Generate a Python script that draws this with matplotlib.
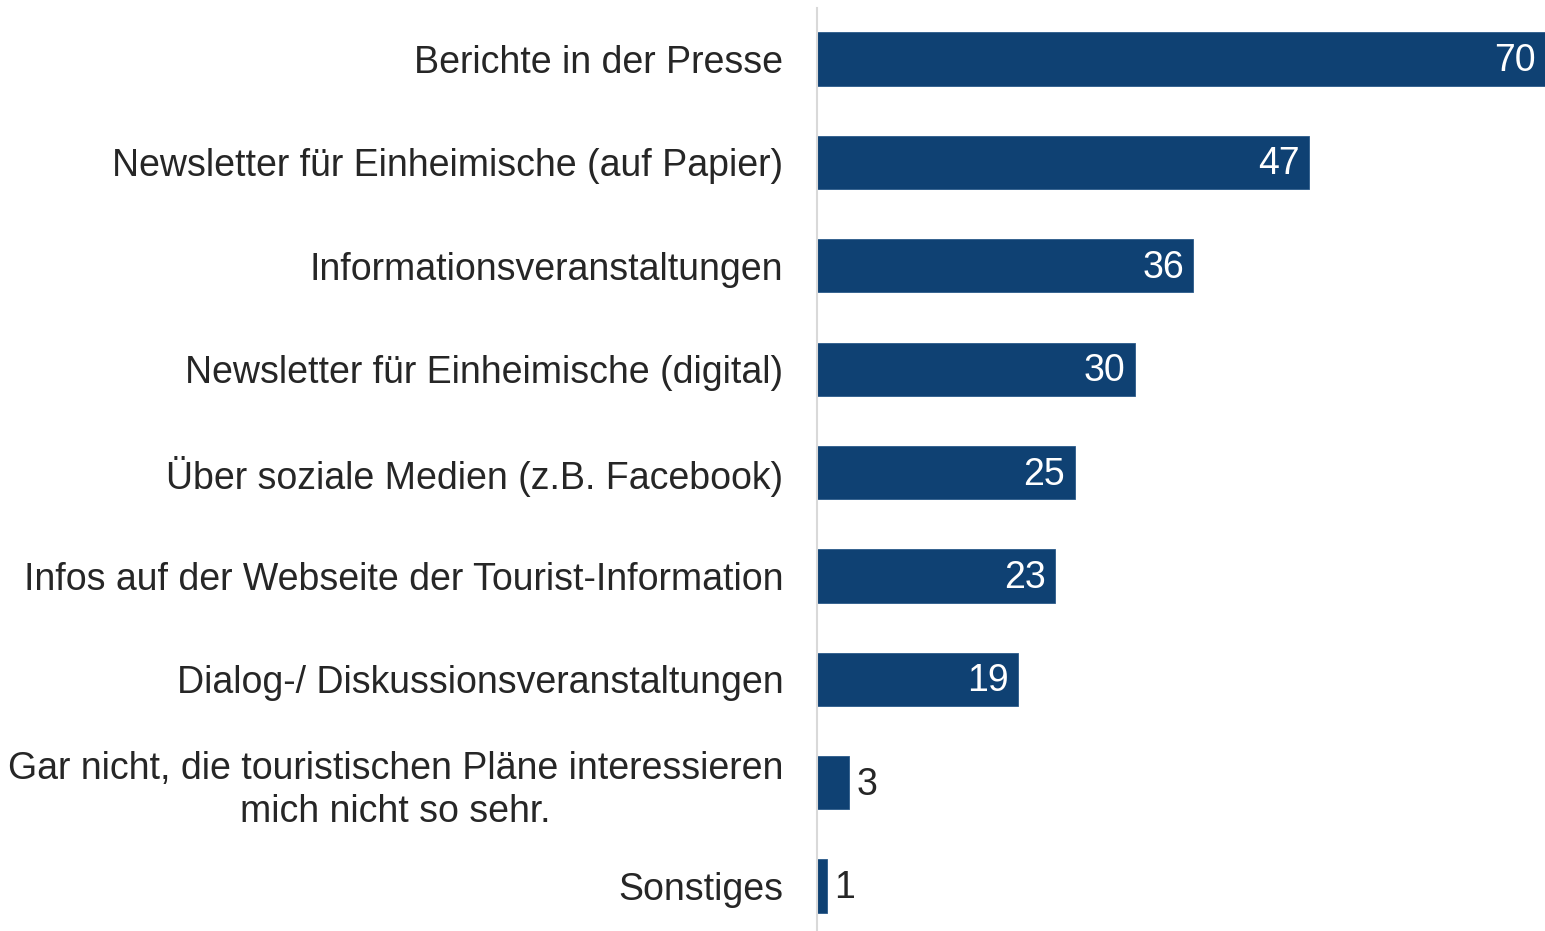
import matplotlib
matplotlib.use("Agg")
import matplotlib.pyplot as plt

plt.rcParams['font.family'] = ['Liberation Sans', 'DejaVu Sans']

categories = [
    "Berichte in der Presse",
    "Newsletter für Einheimische (auf Papier)",
    "Informationsveranstaltungen",
    "Newsletter für Einheimische (digital)",
    "Über soziale Medien (z.B. Facebook)",
    "Infos auf der Webseite der Tourist-Information",
    "Dialog-/ Diskussionsveranstaltungen",
    "Gar nicht, die touristischen Pläne interessieren\nmich nicht so sehr.",
    "Sonstiges",
]
# bar lengths; printed labels are the rounded values
values = [70.0, 47.3, 36.2, 30.6, 24.8, 22.9, 19.4, 3.1, 1.0]
value_labels = ["70", "47", "36", "30", "25", "23", "19", "3", "1"]

bar_color = "#0F4173"
text_color = "#262626"

fig = plt.figure(figsize=(15.45, 9.31), dpi=100)
ax = fig.add_axes([0.5285, 0.0, 0.4715, 0.991])

pos = list(range(len(values)))
ax.barh(pos, values, height=0.515, color=bar_color, edgecolor="#2a5a8a", linewidth=0.6)
ax.set_xlim(0, 70)
ax.set_ylim(len(values) - 1 + 0.435, -0.49)

for p, v, lab in zip(pos, values, value_labels):
    if v >= 10:
        ax.text(v - 0.9, p + 0.02, lab, ha="right", va="center", color="white", fontsize=27)
    else:
        ax.text(v + 0.7, p + 0.02, lab, ha="left", va="center", color=text_color, fontsize=27)

ax.set_yticks(pos)
labels = ax.set_yticklabels(categories, fontsize=27, color=text_color)
for lab in labels:
    lab.set_multialignment("center")
    lab.set_linespacing(1.25)
ax.tick_params(axis="y", length=0, pad=24)
ax.set_xticks([])
for s in ["top", "right", "bottom"]:
    ax.spines[s].set_visible(False)
ax.spines["left"].set_color("#d9d9d9")
ax.spines["left"].set_linewidth(1.5)

fig.savefig("out.png", dpi=100)
